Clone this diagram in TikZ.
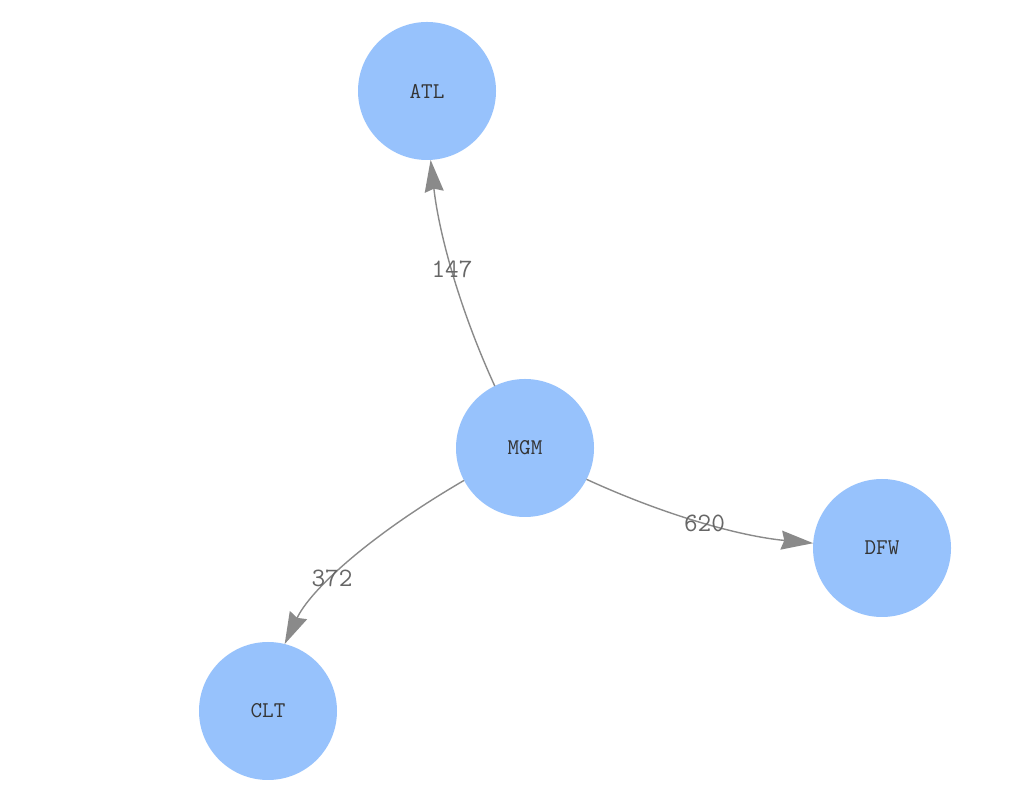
\documentclass[tikz,border=0pt]{standalone}
\usepackage{fontspec}
\usetikzlibrary{arrows.meta}
\definecolor{nodefill}{HTML}{97C2FC}
\definecolor{nodetext}{HTML}{343434}
\definecolor{edgecol}{HTML}{8A8A8A}
\definecolor{labcol}{HTML}{666666}
\tikzset{
  airport/.style={circle, fill=nodefill, draw=none, minimum size=138pt, inner sep=0pt, outer sep=0pt,
    text=nodetext, font=\ttfamily\fontsize{22.5}{25}\selectfont},
  flight/.style={draw=edgecol, line width=1.4pt, -{Stealth[length=32pt,width=19pt,inset=3pt,fill=edgecol]}},
  dist/.style={text=labcol, inner sep=0pt, font=\ttfamily\fontsize{26.5}{29}\selectfont}
}
\begin{document}
\begin{tikzpicture}[x=1pt,y=1pt]
\useasboundingbox (0,0) rectangle (1024,802);
\fill[white] (0,0) rectangle (1024,802);
\node[airport] (ATL) at (427,711) {ATL};
\node[airport] (MGM) at (525,354) {MGM};
\node[airport] (DFW) at (882,254) {DFW};
\node[airport] (CLT) at (268,91) {CLT};
\draw[flight] (MGM.116.4) .. controls (460.3,491.2) and (439.2,566.7) .. (ATL.273.3);
\draw[flight] (MGM.333.1) .. controls (662.6,287.7) and (738.1,266.0) .. (DFW.176.8);
\draw[flight] (MGM.208.3) .. controls (371.0,267.4) and (310.9,213.0) .. (CLT.76.5);
\node[dist] (l147) at (452,532.5) {147};
\node[dist] (l620) at (704.5,279) {620};
\node[dist] (l372) at (332,223.5) {372};
\end{tikzpicture}
\end{document}
